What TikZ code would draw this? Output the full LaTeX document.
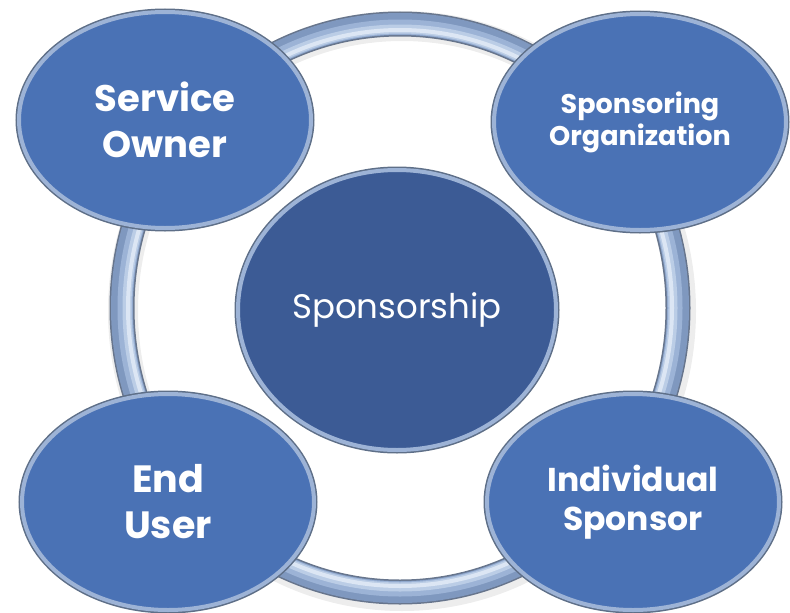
\documentclass[tikz,border=0pt]{standalone}
\usepackage{fontspec}
\setmainfont{Poppins}
\usetikzlibrary{shapes.geometric,shadows}

\definecolor{bubblefill}{HTML}{4A72B5}
\definecolor{corefill}{HTML}{3C5B95}
\definecolor{rimlight}{HTML}{9DB3D6}
\definecolor{rimdark}{HTML}{5E6F88}
\definecolor{tubeA}{HTML}{7F98BF}
\definecolor{tubeB}{HTML}{9CB3D6}
\definecolor{tubeC}{HTML}{BBCDE6}
\definecolor{tubeD}{HTML}{DCE6F4}
\definecolor{tubeEdge}{HTML}{67758C}

\tikzset{
  rim/.style={
    drop shadow={opacity=0.22, shadow xshift=2pt, shadow yshift=-3pt},
    preaction={draw=rimdark, line width=7pt},
    fill=#1, draw=rimlight, line width=4pt,
    ellipse, inner sep=0pt, text=white, align=center},
  bubble/.style={rim=bubblefill, minimum width=292pt, minimum height=216pt,
    font=\bfseries},
  core/.style={rim=corefill, minimum width=318pt, minimum height=280pt,
    font=\fontsize{34}{40}\selectfont},
  tube/.style={draw=#1}
}

\begin{document}
\begin{tikzpicture}[x=1pt, y=-1pt]
  \useasboundingbox (0,0) rectangle (790,613);

  % the ring behind the bubbles
  \coordinate (ring) at (400,308);
  \draw[black, opacity=0.07, line width=30pt]
    ([shift={(2,3)}]ring) ellipse [x radius=279, y radius=285];
  \draw[tube=tubeEdge, line width=25pt] (ring) ellipse [x radius=278, y radius=284];
  \draw[tube=tubeA, line width=22pt] (ring) ellipse [x radius=278, y radius=284];
  \draw[tube=tubeB, line width=15pt] (ring) ellipse [x radius=275, y radius=281];
  \draw[tube=tubeC, line width=9pt] (ring) ellipse [x radius=273, y radius=279];
  \draw[tube=tubeD, line width=4pt] (ring) ellipse [x radius=272, y radius=278];

  % centre
  \node[core] (core) at (397,310) {Sponsorship};

  % the four roles
  \node[bubble, font=\bfseries\fontsize{37}{46}\selectfont] (owner) at (165,120)
    {Service\\Owner};
  \node[bubble, font=\bfseries\fontsize{27}{32}\selectfont] (org) at (640,122)
    {Sponsoring\\Organization};
  \node[bubble, font=\bfseries\fontsize{38}{46}\selectfont] (user) at (168,502)
    {End\\User};
  \node[bubble, font=\bfseries\fontsize{33}{39}\selectfont] (indiv) at (633,502)
    {Individual\\Sponsor};
\end{tikzpicture}
\end{document}
